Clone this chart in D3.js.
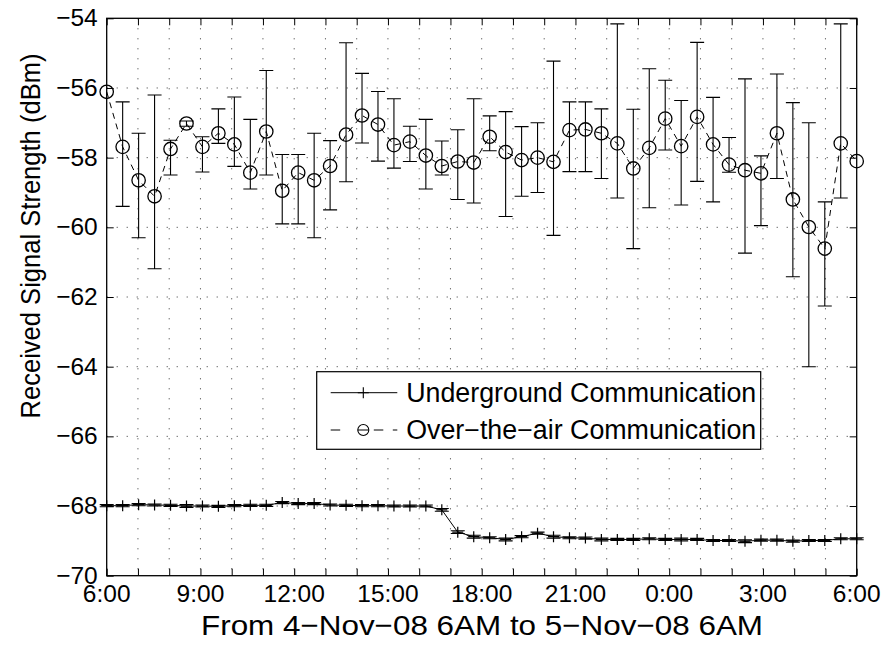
<!DOCTYPE html>
<html>
<head>
<meta charset="utf-8">
<script src="https://cdn.jsdelivr.net/npm/d3@7/dist/d3.min.js"></script>
<style>
  body { margin: 0; background: #fff; }
  text { font-family: "Liberation Sans", Arial, sans-serif; fill: #000; }
</style>
</head>
<body>
<svg id="chart" width="887" height="646"></svg>
<script>
// 時刻ラベル（3時間ごと）
const tickHours = [6, 9, 12, 15, 18, 21, 24, 27, 30];
const tickLabels = ["6:00", "9:00", "12:00", "15:00", "18:00", "21:00", "0:00", "3:00", "6:00"];
const yTicks = [-70, -68, -66, -64, -62, -60, -58, -56, -54];

// 地下通信（平均値と誤差）
const underground = [
  -67.99, -67.99, -67.96, -67.97, -67.98, -68.00, -68.00, -68.01, -67.99, -67.98,
  -67.98, -67.90, -67.93, -67.93, -67.97, -67.98, -67.99, -67.99, -68.00, -68.00,
  -68.00, -68.11, -68.75, -68.88, -68.91, -68.96, -68.88, -68.78, -68.88, -68.91,
  -68.92, -68.96, -68.96, -68.96, -68.94, -68.96, -68.96, -68.96, -68.99, -68.99,
  -69.01, -68.98, -68.98, -69.01, -68.99, -68.99, -68.94, -68.94
];
const undergroundErr = [
  0.03, 0.03, 0.03, 0.03, 0.03, 0.04, 0.03, 0.03, 0.03, 0.03,
  0.03, 0.03, 0.03, 0.03, 0.03, 0.03, 0.03, 0.03, 0.03, 0.03,
  0.03, 0.04, 0.04, 0.04, 0.03, 0.04, 0.03, 0.03, 0.04, 0.03,
  0.03, 0.04, 0.03, 0.03, 0.03, 0.03, 0.04, 0.03, 0.03, 0.03,
  0.04, 0.03, 0.03, 0.03, 0.03, 0.03, 0.03, 0.03
];

// 空中通信（値と誤差範囲）
const overAir = [
  -56.11, -57.69, -58.65, -59.11, -57.75, -57.02, -57.69, -57.30, -57.62, -58.43,
  -57.25, -58.95, -58.43, -58.65, -58.24, -57.34, -56.79, -57.05, -57.64, -57.54,
  -57.94, -58.24, -58.11, -58.14, -57.40, -57.84, -58.07, -58.00, -58.12, -57.21,
  -57.19, -57.30, -57.59, -58.31, -57.72, -56.88, -57.67, -56.83, -57.62, -58.20,
  -58.36, -58.45, -57.30, -59.20, -59.99, -60.61, -57.59, -58.10
];
const overAirLow = [
  null, -59.40, -60.30, -61.19, -58.50, -57.10, -58.41, -57.59, -58.25, -58.90,
  -58.50, -59.90, -59.90, -60.30, -59.50, -58.69, -57.58, -58.10, -58.30, -58.11,
  -58.90, -58.50, -59.20, -59.30, -57.80, -59.69, -59.11, -59.00, -60.23, -58.40,
  -58.40, -58.60, -59.16, -60.61, -59.44, -57.78, -59.36, -58.68, -59.27, -58.42,
  -60.74, -59.95, -58.60, -61.42, -64.00, -62.26, -59.16, null
];
const overAirHigh = [
  null, -56.40, -57.30, -56.20, -57.50, -56.95, -57.40, -56.60, -56.26, -56.90,
  -55.50, -57.91, -57.91, -57.30, -57.51, -54.70, -55.58, -56.10, -56.31, -57.10,
  -56.90, -57.52, -57.20, -56.31, -56.80, -56.68, -57.11, -57.00, -55.23, -56.40,
  -56.40, -56.60, -54.16, -56.61, -55.45, -55.78, -56.36, -54.69, -56.27, -57.42,
  -55.74, -57.95, -55.60, -56.42, -57.00, -59.27, -54.16, null
];

const W = 887, H = 646;
const margin = { left: 106.7, top: 18.3, right: 30.3, bottom: 70.3 };
const iw = W - margin.left - margin.right;
const ih = H - margin.top - margin.bottom;

const svg = d3.select("#chart");
const g = svg.append("g").attr("transform", `translate(${margin.left},${margin.top})`);

const x = d3.scaleLinear().domain([6, 30]).range([0, iw]);
const y = d3.scaleLinear().domain([-70, -54]).range([ih, 0]);

// 各サンプルの時刻（24時間を47区間）
const hourOf = (i) => 6 + (i * 24) / 47;

// グリッド
const hours = d3.range(6, 31);
g.append("g")
  .selectAll("line")
  .data(hours.slice(1, -1))
  .join("line")
  .attr("x1", (d) => x(d)).attr("x2", (d) => x(d))
  .attr("y1", 0).attr("y2", ih)
  .attr("stroke", "#000").attr("stroke-width", 0.8)
  .attr("stroke-dasharray", "1,9");
g.append("g")
  .selectAll("line")
  .data(yTicks.slice(1, -1))
  .join("line")
  .attr("x1", 0).attr("x2", iw)
  .attr("y1", (d) => y(d)).attr("y2", (d) => y(d))
  .attr("stroke", "#000").attr("stroke-width", 0.8)
  .attr("stroke-dasharray", "1,9");

// 軸（内向き目盛り）
const tickLen = 7;
const axB = g.append("g").attr("transform", `translate(0,${ih})`)
  .call(d3.axisBottom(x).tickValues(hours).tickSize(-tickLen).tickFormat(""));
const axT = g.append("g")
  .call(d3.axisTop(x).tickValues(hours).tickSize(-tickLen).tickFormat(""));
const axL = g.append("g")
  .call(d3.axisLeft(y).tickValues(yTicks).tickSize(-tickLen).tickFormat(""));
const axR = g.append("g").attr("transform", `translate(${iw},0)`)
  .call(d3.axisRight(y).tickValues(yTicks).tickSize(-tickLen).tickFormat(""));
[axB, axT, axL, axR].forEach((a) => {
  a.select(".domain").remove();
  a.selectAll("line").attr("stroke", "#000").attr("stroke-width", 1);
});

// 目盛りラベル
g.append("g")
  .selectAll("text")
  .data(tickHours)
  .join("text")
  .attr("x", (d) => x(d))
  .attr("y", ih + 26.5)
  .attr("text-anchor", "middle")
  .attr("font-size", 24.5)
  .text((d, i) => tickLabels[i]);
g.append("g")
  .selectAll("text")
  .data(yTicks)
  .join("text")
  .attr("x", -9)
  .attr("y", (d) => y(d) + 8)
  .attr("text-anchor", "end")
  .attr("font-size", 24.5)
  .text((d) => "\u2212" + Math.abs(d));

// 枠
g.append("rect")
  .attr("width", iw).attr("height", ih)
  .attr("fill", "none").attr("stroke", "#000").attr("stroke-width", 1.3);

// 誤差棒
function drawErrorBars(sel, lows, highs) {
  const cap = 7;
  const data = lows.map((lo, i) => ({ i, lo, hi: highs[i] })).filter((d) => d.lo !== null);
  const eg = sel.append("g").attr("stroke", "#000").attr("stroke-width", 1.1).attr("fill", "none");
  eg.selectAll("path")
    .data(data)
    .join("path")
    .attr("d", (d) => {
      const cx = x(hourOf(d.i)), y1 = y(d.lo), y2 = y(d.hi);
      return `M${cx},${y1}V${y2}M${cx - cap},${y1}H${cx + cap}M${cx - cap},${y2}H${cx + cap}`;
    });
}

// 空中通信
drawErrorBars(g, overAirLow, overAirHigh);
const line = d3.line().x((d, i) => x(hourOf(i))).y((d) => y(d));
g.append("path")
  .datum(overAir)
  .attr("d", line)
  .attr("fill", "none").attr("stroke", "#000").attr("stroke-width", 1)
  .attr("stroke-dasharray", "6,5");
g.append("g")
  .selectAll("circle")
  .data(overAir)
  .join("circle")
  .attr("cx", (d, i) => x(hourOf(i)))
  .attr("cy", (d) => y(d))
  .attr("r", 6.7)
  .attr("fill", "none").attr("stroke", "#000").attr("stroke-width", 1.3);

// 地下通信
drawErrorBars(g,
  underground.map((v, i) => v - undergroundErr[i]),
  underground.map((v, i) => v + undergroundErr[i]));
g.append("path")
  .datum(underground)
  .attr("d", line)
  .attr("fill", "none").attr("stroke", "#000").attr("stroke-width", 1);
const plus = (cx, cy, s) => `M${cx - s},${cy}H${cx + s}M${cx},${cy - s}V${cy + s}`;
g.append("g")
  .selectAll("path")
  .data(underground)
  .join("path")
  .attr("d", (d, i) => plus(x(hourOf(i)), y(d), 5.5))
  .attr("stroke", "#000").attr("stroke-width", 1.2);

// 凡例
const lg = svg.append("g").attr("transform", "translate(316.7,371.7)");
lg.append("rect").attr("width", 444).attr("height", 77.6)
  .attr("fill", "#fff").attr("stroke", "#000").attr("stroke-width", 1.2);
const legendItems = ["Underground Communication", "Over\u2212the\u2212air Communication"];
lg.append("line").attr("x1", 14).attr("x2", 80.6).attr("y1", 21).attr("y2", 21)
  .attr("stroke", "#000").attr("stroke-width", 1);
lg.append("path").attr("d", plus(46.6, 21, 5.5)).attr("stroke", "#000").attr("stroke-width", 1.1);
lg.append("line").attr("x1", 14).attr("x2", 80.6).attr("y1", 58.3).attr("y2", 58.3)
  .attr("stroke", "#000").attr("stroke-width", 1).attr("stroke-dasharray", "9.5,14,0,19.6,9.5");
lg.append("circle").attr("cx", 46.6).attr("cy", 58.3).attr("r", 5.5)
  .attr("fill", "none").attr("stroke", "#000").attr("stroke-width", 1.1);
lg.append("line").attr("x1", 41.1).attr("x2", 52.1).attr("y1", 58.3).attr("y2", 58.3)
  .attr("stroke", "#000").attr("stroke-width", 1);
lg.selectAll("text.item")
  .data(legendItems)
  .join("text")
  .attr("class", "item")
  .attr("x", 89.5)
  .attr("y", (d, i) => [21, 58.3][i] + 9.5)
  .attr("font-size", 26.8)
  .text((d) => d);

// 軸タイトル
svg.append("text")
  .attr("x", 482).attr("y", 635)
  .attr("text-anchor", "middle")
  .attr("font-size", 28.5)
  .attr("textLength", 562).attr("lengthAdjust", "spacingAndGlyphs")
  .text("From 4\u2212Nov\u221208 6AM to 5\u2212Nov\u221208 6AM");
svg.append("text")
  .attr("transform", "translate(40,236) rotate(-90)")
  .attr("text-anchor", "middle")
  .attr("font-size", 28)
  .attr("textLength", 365).attr("lengthAdjust", "spacingAndGlyphs")
  .text("Received Signal Strength (dBm)");
</script>
</body>
</html>
